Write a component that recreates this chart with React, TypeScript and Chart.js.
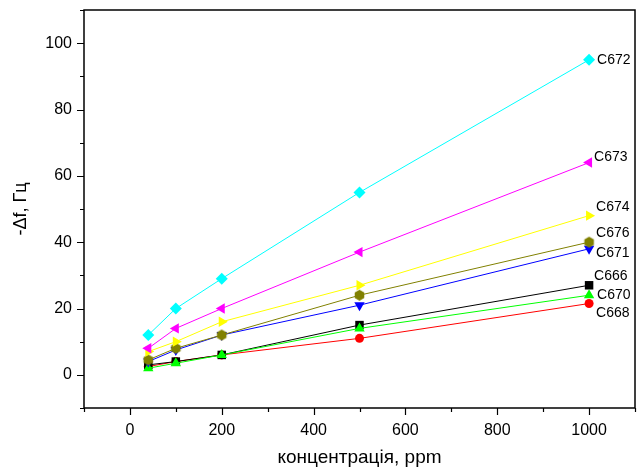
import React, { useEffect, useRef } from "react";
import { Chart, registerables } from "chart.js";

Chart.register(...registerables);

const concentrations = [40, 100, 200, 500, 1000];
const seriesNames = ["C672", "C673", "C674", "C676", "C671", "C670", "C666", "C668"];
const c672 = [12, 20, 29, 55, 95];
const c673 = [8, 14, 20, 37, 64];
const c674 = [7, 10, 16, 27, 48];
const c676 = [4.5, 8, 12, 24, 40];
const c671 = [4, 7.5, 12, 21, 38];
const c670 = [2, 3.5, 6, 14, 24];
const c666 = [3, 4, 6, 15, 27];
const c668 = [2.5, 4, 6, 11, 21.5];
const seriesValues = [c672, c673, c674, c676, c671, c670, c666, c668];
const seriesColors = ["#00FFFF", "#FF00FF", "#FFFF00", "#808000", "#0000FF", "#00FF00", "#000000", "#FF0000"];
const xTickValues = [0, 200, 400, 600, 800, 1000];
const yTickValues = [0, 20, 40, 60, 80, 100];

const FONT = "'Liberation Sans', Arial, sans-serif";

// label offsets (px) from the last point of each series: [dx, dy]
const labelOffsets: Record<string, [number, number]> = {
  C672: [8, 0],
  C673: [5, -5],
  C674: [7, -8],
  C676: [7, -9],
  C671: [7, 4],
  C666: [5, -9],
  C670: [8, 0],
  C668: [7, 10],
};

function hexagon(color: string, r: number): HTMLCanvasElement {
  const s = Math.ceil(2 * r + 2);
  const c = document.createElement("canvas");
  c.width = s;
  c.height = s;
  const g = c.getContext("2d")!;
  g.beginPath();
  for (let i = 0; i < 6; i++) {
    const a = -Math.PI / 2 + (i * Math.PI) / 3;
    const px = s / 2 + r * Math.cos(a);
    const py = s / 2 + r * Math.sin(a);
    if (i === 0) g.moveTo(px, py);
    else g.lineTo(px, py);
  }
  g.closePath();
  g.fillStyle = color;
  g.fill();
  return c;
}

const framePlugin = {
  id: "frame",
  afterDraw(chart: any) {
    const { ctx, chartArea, scales } = chart;
    const { left, right, top, bottom } = chartArea;
    const x = scales.x;
    const y = scales.y;
    ctx.save();
    ctx.strokeStyle = "#000";
    ctx.lineWidth = 1.5;
    ctx.strokeRect(left, top, right - left, bottom - top);
    ctx.lineWidth = 1.2;
    ctx.beginPath();
    for (let v = -100; v <= 1100; v += 100) {
      const px = Math.round(x.getPixelForValue(v)) + 0.5;
      const len = v % 200 === 0 ? 7 : 4;
      ctx.moveTo(px, bottom);
      ctx.lineTo(px, bottom + len);
    }
    for (let v = -10; v <= 110; v += 10) {
      const py = Math.round(y.getPixelForValue(v)) + 0.5;
      const len = v % 20 === 0 ? 7 : 4;
      ctx.moveTo(left, py);
      ctx.lineTo(left - len, py);
    }
    ctx.stroke();
    ctx.restore();
  },
};

const labelPlugin = {
  id: "seriesLabels",
  afterDatasetsDraw(chart: any) {
    const { ctx } = chart;
    ctx.save();
    ctx.font = `14px ${FONT}`;
    ctx.fillStyle = "#000";
    ctx.textAlign = "left";
    ctx.textBaseline = "middle";
    chart.data.datasets.forEach((ds: any, i: number) => {
      const meta = chart.getDatasetMeta(i);
      const last = meta.data[meta.data.length - 1];
      const off = labelOffsets[ds.label] || [6, 0];
      ctx.fillText(ds.label, last.x + off[0], last.y + off[1]);
    });
    ctx.restore();
  },
};

function zeroPadding(s: any) {
  s.paddingTop = 0;
  s.paddingBottom = 0;
  s.paddingLeft = 0;
  s.paddingRight = 0;
}

export default function App() {
  const ref = useRef<HTMLCanvasElement>(null);

  useEffect(() => {
    const styles: any[] = [
      { pointStyle: "rectRot", radius: 6, rotation: 0 },
      { pointStyle: "triangle", radius: 6, rotation: -90 },
      { pointStyle: "triangle", radius: 6, rotation: 90 },
      { pointStyle: hexagon("#808000", 5.5), radius: 6, rotation: 0 },
      { pointStyle: "triangle", radius: 6, rotation: 180 },
      { pointStyle: "triangle", radius: 6, rotation: 0 },
      { pointStyle: "rect", radius: 6, rotation: 0 },
      { pointStyle: "circle", radius: 4.5, rotation: 0 },
    ];
    const datasets = seriesNames.map((name, i) => ({
      label: name,
      data: concentrations.map((c, j) => ({ x: c, y: seriesValues[i][j] })),
      borderColor: seriesColors[i],
      backgroundColor: seriesColors[i],
      borderWidth: 1,
      pointStyle: styles[i].pointStyle,
      pointRadius: styles[i].radius,
      pointRotation: styles[i].rotation,
      pointBorderWidth: 0,
      pointBackgroundColor: seriesColors[i],
      pointBorderColor: seriesColors[i],
      tension: 0,
    }));

    const chart = new Chart(ref.current!, {
      type: "line",
      data: { datasets },
      options: {
        animation: false,
        responsive: true,
        maintainAspectRatio: false,
        layout: { padding: { top: 10, right: 5, left: 0, bottom: 0 } },
        plugins: { legend: { display: false }, tooltip: { enabled: false } },
        scales: {
          x: {
            type: "linear",
            min: -100,
            max: 1100,
            grid: { display: false, drawTicks: false },
            border: { display: false },
            afterBuildTicks: (s: any) => {
              s.ticks = xTickValues.map((v) => ({ value: v }));
            },
            afterFit: (s: any) => {
              s.height = 66;
              zeroPadding(s);
            },
            ticks: {
              color: "#000",
              font: { family: FONT, size: 16 },
              padding: 13,
              maxRotation: 0,
              callback: (v: any) => String(v),
            },
            title: {
              display: true,
              text: "концентрація, ppm",
              color: "#000",
              font: { family: FONT, size: 19 },
              padding: { top: 0, bottom: 5 },
            },
          },
          y: {
            type: "linear",
            min: -10,
            max: 110,
            grid: { display: false, drawTicks: false },
            border: { display: false },
            afterBuildTicks: (s: any) => {
              s.ticks = yTickValues.map((v) => ({ value: v }));
            },
            afterFit: (s: any) => {
              s.width = 84;
              zeroPadding(s);
            },
            ticks: {
              color: "#000",
              font: { family: FONT, size: 16 },
              padding: 12,
              callback: (v: any) => String(v),
            },
            title: {
              display: true,
              text: "-Δf, Гц",
              color: "#000",
              font: { family: FONT, size: 18 },
              padding: { top: 10, bottom: 0 },
            },
          },
        },
      },
      plugins: [framePlugin, labelPlugin],
    });
    return () => chart.destroy();
  }, []);

  return (
    <div style={{ position: "absolute", left: 0, top: 0, width: 641, height: 474, background: "#fff" }}>
      <canvas ref={ref} />
    </div>
  );
}
